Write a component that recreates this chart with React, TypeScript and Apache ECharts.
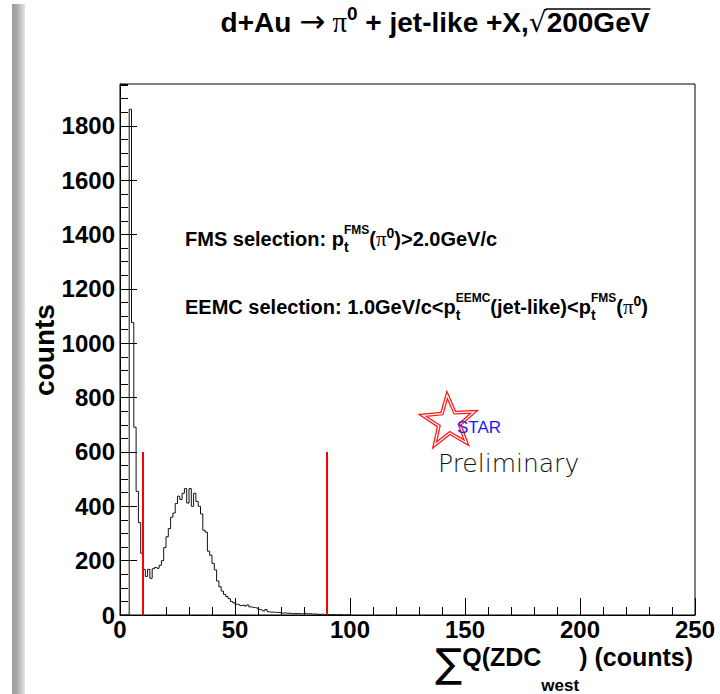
import React, { useEffect, useRef } from "react";
import * as echarts from "echarts";

// ZDC-west charge sum, 1-count bins starting at 0
const countsLow = [0, 0, 0, 0, 1861, 1076, 691, 455, 340, 227, 168, 142, 168, 135, 170, 175, 172, 183, 200, 248]; // bins 0-19
const countsPeak = [
  288, 318, 360, 375, 410, 437, 425, 448, 465, 412,
  465, 400, 448, 418, 400, 372, 312, 305, 235, 220,
  190, 166, 125, 104, 88, 76, 68, 60, 50, 45,
]; // bins 20-49
const countsTail = [
  40, 38, 35, 37, 33, 37, 30, 28, 27, 25,
  20, 18, 15, 20, 12, 10, 11, 9, 10, 8,
  7, 8, 6, 7, 5, 6, 5, 6, 4, 5,
  6, 4, 5, 3, 4, 3, 2, 3, 2, 1,
  2, 1, 1, 0, 1, 1, 0, 0, 1, 0,
]; // bins 50-99

const binWidth = 1;
const xRange = [0, 250];
const yMax = 1954;

// selection window on the ZDC sum
const cutLow = 10;
const cutHigh = 90;
const cutMarkerHeight = 600;

const SANS = '"Liberation Sans", Arial, Helvetica, sans-serif';
const SERIF = '"Liberation Serif", "Times New Roman", serif';
const DEJAVU = '"DejaVu Sans", sans-serif';

type Piece = {
  text: string;
  size: number;
  family?: string;
  weight?: string;
  rise?: number;
  stack?: boolean;
  fill?: string;
};

let measureCtx: CanvasRenderingContext2D | null = null;
function textWidth(text: string, font: string) {
  if (!measureCtx) measureCtx = document.createElement("canvas").getContext("2d");
  measureCtx!.font = font;
  return measureCtx!.measureText(text).width;
}

// Sets a run of text pieces (with sub/superscripts) on a common baseline.
function setLine(pieces: Piece[], anchorX: number, baseline: number, align: "left" | "center" | "right") {
  let cursor = 0;
  let prevStart = 0;
  const placed = pieces.map((p) => {
    const font = `${p.weight ?? "bold"} ${p.size}px ${p.family ?? SANS}`;
    const w = textWidth(p.text, font);
    const start = p.stack ? prevStart : cursor;
    if (!p.stack) prevStart = start;
    cursor = Math.max(cursor, start + w);
    return { p, font, start, w };
  });
  const off = align === "left" ? anchorX : align === "center" ? anchorX - cursor / 2 : anchorX - cursor;
  const elements = placed.map(({ p, font, start }) => ({
    type: "text",
    silent: true,
    x: off + start,
    y: baseline - (p.rise ?? 0) - 0.346 * p.size,
    style: {
      text: p.text,
      font,
      fill: p.fill ?? "#000",
      align: "left",
      verticalAlign: "middle",
      textAlign: "left",
      textVerticalAlign: "middle",
    },
  }));
  const boxes = placed.map(({ start, w }) => ({ x0: off + start, x1: off + start + w }));
  return { elements, boxes };
}

function starPoints(cx: number, cy: number, R: number, r: number, tiltDeg: number) {
  const pts: number[][] = [];
  for (let k = 0; k < 10; k++) {
    const a = ((-90 + tiltDeg + k * 36) * Math.PI) / 180;
    const rad = k % 2 === 0 ? R : r;
    pts.push([cx + rad * Math.cos(a), cy + rad * Math.sin(a)]);
  }
  return pts;
}

export default function App() {
  const ref = useRef<HTMLDivElement>(null);

  useEffect(() => {
    if (!ref.current) return;
    const chart = echarts.init(ref.current, null, { renderer: "svg" });

    const counts = [...countsLow, ...countsPeak, ...countsTail];
    const histPoints: number[][] = [[0, 0]];
    counts.forEach((c, i) => {
      histPoints.push([i * binWidth, c], [(i + 1) * binWidth, c]);
    });
    histPoints.push([counts.length * binWidth, 0]);

    const title = setLine(
      [
        { text: "d+Au ", size: 28 },
        { text: "\u2192", size: 31, family: DEJAVU, weight: "normal" },
        { text: " ", size: 26 },
        { text: "\u03c0", size: 29, family: SERIF, weight: "normal" },
        { text: "0", size: 19, rise: 12 },
        { text: " + jet-like +X,", size: 28 },
        { text: "\u221a", size: 28, family: DEJAVU, weight: "normal" },
        { text: "200GeV", size: 28 },
      ],
      435,
      32,
      "center"
    );
    const rootBox = title.boxes[7];
    const overline = {
      type: "line",
      silent: true,
      shape: { x1: title.boxes[6].x1 - 1, y1: 32 - 23, x2: rootBox.x1 + 1, y2: 32 - 23 },
      style: { stroke: "#000", lineWidth: 1.3 },
    };

    const fms = setLine(
      [
        { text: "FMS selection: ", size: 20 },
        { text: "p", size: 20 },
        { text: "t", size: 14, rise: -6 },
        { text: "FMS", size: 12, rise: 12, stack: true },
        { text: "(", size: 20 },
        { text: "\u03c0", size: 21, family: SERIF, weight: "normal" },
        { text: "0", size: 14, rise: 8 },
        { text: ")>2.0GeV/c", size: 20 },
      ],
      185,
      246,
      "left"
    );

    const eemc = setLine(
      [
        { text: "EEMC selection: 1.0GeV/c<", size: 20 },
        { text: "p", size: 20 },
        { text: "t", size: 14, rise: -6 },
        { text: "EEMC", size: 12, rise: 12, stack: true },
        { text: "(jet-like)<", size: 20 },
        { text: "p", size: 20 },
        { text: "t", size: 14, rise: -6 },
        { text: "FMS", size: 12, rise: 12, stack: true },
        { text: "(", size: 20 },
        { text: "\u03c0", size: 21, family: SERIF, weight: "normal" },
        { text: "0", size: 14, rise: 8 },
        { text: ")", size: 20 },
      ],
      185,
      314,
      "left"
    );

    const xTitle = setLine(
      [
        { text: "\u2211", size: 40, family: DEJAVU, weight: "normal", rise: -11 },
        { text: "Q(ZDC", size: 25 },
        { text: "west", size: 17, rise: -25 },
        { text: ") (counts)", size: 25 },
      ],
      693,
      666,
      "right"
    );

    const star = starPoints(449, 422, 27, 11, -4);

    chart.setOption({
      animation: false,
      backgroundColor: "#fff",
      grid: {
        left: 120,
        right: 25,
        top: 84,
        bottom: 79,
        show: true,
        borderColor: "#000",
        borderWidth: 1,
        backgroundColor: "transparent",
        containLabel: false,
        outerBoundsMode: "none",
      },
      xAxis: {
        type: "value",
        min: xRange[0],
        max: xRange[1],
        interval: 50,
        axisLine: { show: true, onZero: false, lineStyle: { color: "#000", width: 1 } },
        axisTick: { show: true, inside: true, length: 17, lineStyle: { color: "#000", width: 1 } },
        minorTick: { show: true, splitNumber: 5, length: 8, lineStyle: { color: "#000", width: 1 } },
        splitLine: { show: false },
        minorSplitLine: { show: false },
        axisLabel: {
          margin: 2,
          color: "#000",
          fontFamily: SANS,
          fontWeight: "bold",
          fontSize: 24,
        },
      },
      yAxis: [
        {
          type: "value",
          min: 0,
          max: yMax,
          interval: 200,
          axisLine: { show: true, onZero: false, lineStyle: { color: "#000", width: 1 } },
          axisTick: { show: true, inside: true, length: 17, lineStyle: { color: "#000", width: 1 } },
          splitLine: { show: false },
          axisLabel: {
            margin: 5,
            color: "#000",
            fontFamily: SANS,
            fontWeight: "bold",
            fontSize: 24,
            showMaxLabel: false,
            formatter: (v: number) => (v % 200 === 0 ? String(v) : ""),
          },
        },
        {
          type: "value",
          min: 0,
          max: yMax,
          interval: 50,
          position: "left",
          axisLine: { show: false },
          axisTick: { show: true, inside: true, length: 8, lineStyle: { color: "#000", width: 1 } },
          axisLabel: { show: false },
          splitLine: { show: false },
        },
      ],
      series: [
        {
          type: "line",
          data: histPoints,
          symbol: "none",
          showSymbol: false,
          lineStyle: { color: "#111", width: 1 },
          silent: true,
          z: 3,
        },
        {
          type: "line",
          data: [
            [cutLow, 0],
            [cutLow, cutMarkerHeight],
          ],
          symbol: "none",
          lineStyle: { color: "#ff0000", width: 2 },
          silent: true,
          z: 4,
        },
        {
          type: "line",
          data: [
            [cutHigh, 0],
            [cutHigh, cutMarkerHeight],
          ],
          symbol: "none",
          lineStyle: { color: "#ff0000", width: 2 },
          silent: true,
          z: 4,
        },
      ],
      graphic: [
        {
          type: "rect",
          silent: true,
          shape: { x: 12, y: 4, width: 13, height: 690 },
          style: {
            fill: new echarts.graphic.LinearGradient(0, 0, 1, 0, [
              { offset: 0, color: "#9c9c9c" },
              { offset: 0.35, color: "#a8a8a8" },
              { offset: 1, color: "#e4e4e4" },
            ]),
          },
        },
        ...title.elements,
        overline,
        ...fms.elements,
        ...eemc.elements,
        ...xTitle.elements,
        {
          type: "text",
          silent: true,
          x: 44,
          y: 350,
          rotation: Math.PI / 2,
          style: {
            text: "counts",
            font: `bold 28px ${SANS}`,
            fill: "#000",
            align: "center",
            verticalAlign: "middle",
            textAlign: "center",
            textVerticalAlign: "middle",
          },
        },
        {
          type: "polygon",
          silent: true,
          shape: { points: star },
          style: { fill: "none", stroke: "#ff1a1a", lineWidth: 3.8 },
        },
        {
          type: "polygon",
          silent: true,
          shape: { points: star },
          style: { fill: "none", stroke: "#ffffff", lineWidth: 1.2 },
        },
        {
          type: "text",
          silent: true,
          x: 457,
          y: 433 - 0.346 * 17,
          style: {
            text: "STAR",
            font: `normal 17px ${SANS}`,
            fill: "#1a1aff",
            align: "left",
            verticalAlign: "middle",
            textAlign: "left",
            textVerticalAlign: "middle",
          },
        },
        {
          type: "text",
          silent: true,
          x: 438,
          y: 472 - 0.346 * 25,
          style: {
            text: "Preliminary",
            font: `300 25px ${DEJAVU}`,
            fill: "#111",
            align: "left",
            verticalAlign: "middle",
            textAlign: "left",
            textVerticalAlign: "middle",
          },
        },
      ],
    });

    return () => chart.dispose();
  }, []);

  return (
    <div
      ref={ref}
      style={{ position: "absolute", left: 0, top: 0, width: 720, height: 694, background: "#fff" }}
    />
  );
}
